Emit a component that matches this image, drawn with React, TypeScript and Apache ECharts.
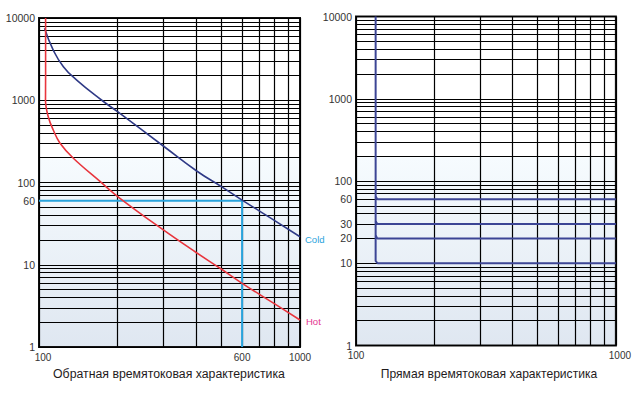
import React, { useEffect, useRef } from "react";
import * as echarts from "echarts";

// ---- data ----
const coldCurve: [number, number][] = [
  [105, 7500], [113.4, 4080], [124, 2560], [139.5, 1760], [174, 1000], [200, 726],
  [302, 272], [402, 138], [500, 89], [600, 61], [800, 34.4], [1000, 21.9],
];
const hotCurve: [number, number][] = [
  [106, 10000], [106, 2000], [105.9, 1000], [108.5, 631], [113.4, 435], [120.4, 300],
  [135.4, 197], [171.3, 103], [204.3, 64.3], [299.5, 26.5], [400, 14.1], [494, 9.06],
  [600, 5.95], [800, 3.34], [1000, 2.13],
];
const guideLine: [number, number][] = [[100, 60], [600, 60], [600, 1]];

const directMain: [number, number][] = [[119, 10000], [119, 10.7], [121, 10], [1000, 10]];
const directBranch60: [number, number][] = [[119, 65], [120.8, 60], [1000, 60]];
const directBranch30: [number, number][] = [[119, 32.5], [120.8, 30], [1000, 30]];
const directBranch20: [number, number][] = [[119, 21.7], [120.8, 20], [1000, 20]];

const xGridValues = [100, 200, 300, 400, 500, 600, 700, 800, 900, 1000];
const yGridValues = [
  1, 2, 3, 4, 5, 6, 7, 8, 9,
  10, 20, 30, 40, 50, 60, 70, 80, 90,
  100, 200, 300, 400, 500, 600, 700, 800, 900,
  1000, 2000, 3000, 4000, 5000, 6000, 7000, 8000, 9000, 10000,
];
const leftXLabels = [100, 600, 1000];
const leftYLabels = [1, 10, 60, 100, 1000, 10000];
const rightXLabels = [100, 1000];
const rightYLabels = [1, 10, 20, 30, 60, 100, 1000, 10000];

const leftTitle = "Обратная времятоковая характеристика";
const rightTitle = "Прямая времятоковая характеристика";

const FONT = "Liberation Sans, Arial, sans-serif";

export default function App() {
  const ref = useRef<HTMLDivElement>(null);
  useEffect(() => {
    if (!ref.current) return;
    const chart = echarts.init(ref.current, undefined, { renderer: "svg" });
    const bg = () =>
      new echarts.graphic.LinearGradient(0, 0, 0, 1, [
        { offset: 0, color: "#ffffff" },
        { offset: 0.425, color: "#ffffff" },
        { offset: 0.43, color: "#f6fbfe" },
        { offset: 1, color: "#dfe7f1" },
      ]);
    const fmt = (v: number) => String(Math.round(v));
    const xAxis = (gi: number, labels: number[], shiftValue: number) => ({
      type: "log",
      logBase: 10,
      gridIndex: gi,
      min: 100,
      max: 1000,
      axisLine: { show: false },
      axisTick: { show: false, customValues: xGridValues },
      splitLine: { show: true, lineStyle: { color: "#000", width: 1.2 } },
      axisLabel: {
        customValues: labels,
        formatter: (v: number) => {
          const s = fmt(v);
          return Math.round(v) === shiftValue ? `{s|${s}}` : s;
        },
        rich: { s: { padding: [0, 0, 0, 8], fontFamily: FONT, fontSize: 10, color: "#333" } },
        fontFamily: FONT,
        fontSize: 10,
        color: "#333",
        margin: 5,
      },
    });
    const yAxis = (gi: number, labels: number[]) => ({
      type: "log",
      logBase: 10,
      gridIndex: gi,
      min: 1,
      max: 10000,
      axisLine: { show: false },
      axisTick: { show: false, customValues: yGridValues },
      splitLine: { show: true, lineStyle: { color: "#000", width: 1.2 } },
      axisLabel: {
        customValues: labels,
        formatter: fmt,
        fontFamily: FONT,
        fontSize: 10.5,
        color: "#333",
        margin: 4,
      },
    });
    const line = (xi: number, data: [number, number][], color: string, width: number, extra: any = {}) => ({
      type: "line",
      xAxisIndex: xi,
      yAxisIndex: xi,
      data,
      showSymbol: false,
      symbol: "none",
      lineStyle: { color, width },
      itemStyle: { color },
      silent: true,
      ...extra,
    });
    chart.setOption({
      animation: false,
      backgroundColor: "#ffffff",
      grid: [
        { left: 39, top: 18, width: 261, height: 329, show: true, backgroundColor: bg(), borderColor: "#111", borderWidth: 2 },
        { left: 356, top: 16.5, width: 261.5, height: 329, show: true, backgroundColor: bg(), borderColor: "#111", borderWidth: 2 },
      ],
      xAxis: [xAxis(0, leftXLabels, 100), xAxis(1, rightXLabels, 1000)],
      yAxis: [yAxis(0, leftYLabels), yAxis(1, rightYLabels)],
      series: [
        line(0, guideLine, "#29a3dc", 2),
        line(0, coldCurve, "#2f3a86", 1.6, {
          smooth: 0.5,
          endLabel: { show: true, formatter: "Cold", color: "#29a3dc", fontFamily: FONT, fontSize: 9.5, distance: 5, offset: [0, 3] },
        }),
        line(0, hotCurve, "#e8353d", 1.6, {
          smooth: 0.4,
          endLabel: { show: true, formatter: "Hot", color: "#e4338f", fontFamily: FONT, fontSize: 9.5, distance: 6, offset: [0, 2] },
        }),
        line(1, directMain, "#3c4595", 2),
        line(1, directBranch60, "#3c4595", 2),
        line(1, directBranch30, "#3c4595", 2),
        line(1, directBranch20, "#3c4595", 2),
      ],
      graphic: [
        {
          type: "text",
          x: 169,
          y: 374,
          style: { text: leftTitle, align: "center", verticalAlign: "middle", font: `12.3px ${FONT}`, fill: "#1f1b1c" },
        },
        {
          type: "text",
          x: 489,
          y: 374,
          style: { text: rightTitle, align: "center", verticalAlign: "middle", font: `12.1px ${FONT}`, fill: "#1f1b1c" },
        },
      ],
    });
    return () => chart.dispose();
  }, []);
  return <div ref={ref} style={{ position: "fixed", left: 0, top: 0, width: 634, height: 395 }} />;
}
